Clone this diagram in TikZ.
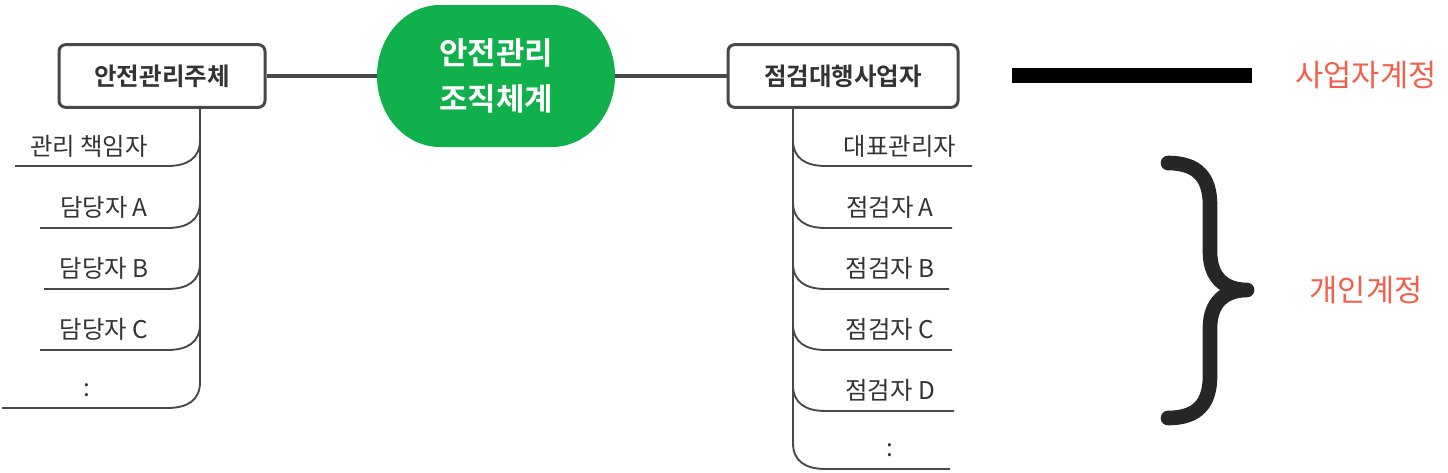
\documentclass[tikz,border=0pt]{standalone}
\usepackage{fontspec}
\setmainfont{Noto Sans CJK KR}[BoldFont={Noto Sans CJK KR Bold}]

\definecolor{linegray}{HTML}{484848}
\definecolor{textgray}{HTML}{333333}
\definecolor{hubgreen}{HTML}{10B14B}
\definecolor{notered}{HTML}{F0604A}
\definecolor{bracegray}{HTML}{262626}

\tikzset{every picture/.style={line width=0.75pt}}
\tikzset{
  groupbox/.style={draw=linegray, line width=2.25pt, rounded corners=5pt, fill=white,
    minimum height=47pt, inner sep=0pt, text=textgray,
    font=\bfseries\fontsize{18.4}{22}\selectfont},
  hubtext/.style={minimum width=177.75pt, minimum height=106.5pt, inner sep=0pt,
    align=center, text=white, font=\bfseries\fontsize{23.2}{34.5}\selectfont},
  member/.style={inner sep=0pt, text=textgray, font=\fontsize{18.3}{22}\selectfont},
  link/.style={draw=linegray, line width=3pt},
  trunk/.style={draw=linegray, line width=1.6pt},
  branch/.style={draw=linegray, line width=1.4pt},
  notelabel/.style={inner sep=0pt, text=notered, font=\fontsize{23}{27}\selectfont}
}

\begin{document}
\begin{tikzpicture}[x=0.75pt,y=0.75pt,yscale=-1,xscale=1]
\useasboundingbox (0,0) rectangle (1448,472);

%Hub: rounded green shape
\fill [hubgreen] (440,5) -- (552,5) arc[start angle=-90,end angle=90,x radius=63,y radius=71] -- (440,147) arc[start angle=90,end angle=270,x radius=63,y radius=71] -- cycle ;
% Text Node
\node [hubtext] (hub) at (496,76) {안전관리\\조직체계};

%Group boxes
\node [groupbox, minimum width=154.5pt] (owner) at (162,76) {안전관리주체};
\node [groupbox, minimum width=172.5pt] (agency) at (843,76) {점검대행사업자};

%Links to hub
\draw [link] (owner) -- (hub);
\draw [link] (hub) -- (agency);

%Left trunk
\coordinate (ownerfoot) at (200,382);
\draw [trunk] (owner.south -| ownerfoot) -- (ownerfoot);
%Left branches
\draw [branch] (15,166) -- (167,166) .. controls (188,166) and (200,158) .. (200,140) ;
\draw [branch] (40,228) -- (167,228) .. controls (188,228) and (200,220) .. (200,202) ;
\draw [branch] (44,289) -- (167,289) .. controls (188,289) and (200,281) .. (200,263) ;
\draw [branch] (40,350) -- (167,350) .. controls (188,350) and (200,342) .. (200,324) ;
\draw [branch] (2,408) -- (167,408) .. controls (188,408) and (200,400) .. (200,382) ;

% Text Node
\node [member] (owner1) at (89,146) {관리 책임자};
\node [member] (owner2) at (104,207) {담당자 A};
\node [member] (owner3) at (104,268) {담당자 B};
\node [member] (owner4) at (104,329) {담당자 C};
\node [member] (owner5) at (87,390) {:};

%Right trunk
\coordinate (agencyfoot) at (793,443);
\draw [trunk] (agency.south -| agencyfoot) -- (agencyfoot);
%Right branches
\draw [branch] (793,140) .. controls (793,158) and (805,166) .. (826,166) -- (972,166) ;
\draw [branch] (793,202) .. controls (793,220) and (805,228) .. (826,228) -- (952,228) ;
\draw [branch] (793,263) .. controls (793,281) and (805,289) .. (826,289) -- (949,289) ;
\draw [branch] (793,324) .. controls (793,342) and (805,350) .. (826,350) -- (952,350) ;
\draw [branch] (793,385) .. controls (793,403) and (805,411) .. (826,411) -- (954,411) ;
\draw [branch] (793,443) .. controls (793,461) and (805,469) .. (826,469) -- (950,469) ;

% Text Node
\node [member] (agency1) at (900,146) {대표관리자};
\node [member] (agency2) at (890,207) {점검자 A};
\node [member] (agency3) at (890,268) {점검자 B};
\node [member] (agency4) at (890,329) {점검자 C};
\node [member] (agency5) at (890,390) {점검자 D};
\node [member] (agency6) at (890,450) {:};

%Legend: bar and brace
\fill [black] (1012,68) rectangle (1252,83) ;
\draw [bracegray, line width=11pt, line cap=round, line join=round] (1168,163) .. controls (1198,163) and (1210,178) .. (1210,205) -- (1210,252) .. controls (1210,277) and (1224,290) .. (1247,290) .. controls (1224,290) and (1210,303) .. (1210,328) -- (1210,376) .. controls (1210,403) and (1198,418) .. (1168,418) ;

% Text Node
\node [notelabel] (bizlabel) at (1366,75) {사업자계정};
\node [notelabel] (personlabel) at (1366,290) {개인계정};

\end{tikzpicture}
\end{document}
